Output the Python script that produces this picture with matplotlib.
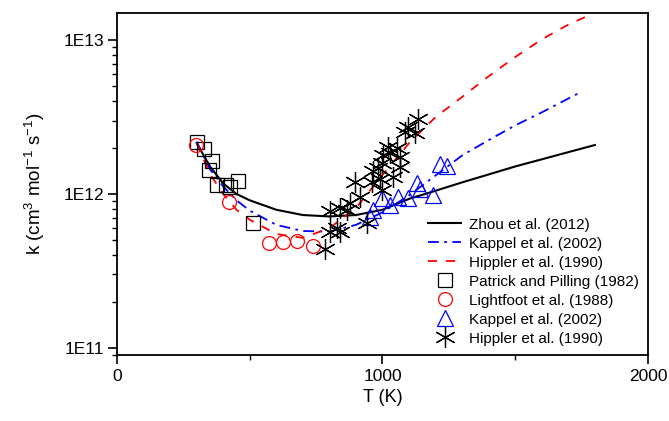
import matplotlib
matplotlib.use("Agg")
import matplotlib.pyplot as plt
from matplotlib.ticker import FixedLocator, LogLocator, FuncFormatter, NullFormatter
import numpy as np

plt.rcParams['font.family'] = ['Liberation Sans', 'DejaVu Sans']
plt.rcParams['mathtext.default'] = 'regular'
plt.rcParams['axes.unicode_minus'] = False

# ---- fitted curves ----
zhou_T = [300, 350, 400, 450, 500, 600, 700, 800, 900, 1000, 1100, 1200, 1300, 1400, 1500, 1600, 1700, 1800]
zhou_k = [2.14e12, 1.51e12, 1.17e12, 1.0e12, 9.1e11, 7.9e11, 7.3e11, 7.15e11, 7.3e11, 7.9e11,
          9.3e11, 1.05e12, 1.19e12, 1.34e12, 1.51e12, 1.68e12, 1.87e12, 2.08e12]

kappel_T = [300, 350, 400, 450, 500, 600, 700, 800, 900, 1000, 1100, 1200, 1300, 1400, 1500, 1600, 1700, 1750]
kappel_k = [2.19e12, 1.45e12, 1.12e12, 9.1e11, 7.8e11, 6.3e11, 5.75e11, 5.7e11, 6.3e11, 7.6e11,
            9.8e11, 1.32e12, 1.78e12, 2.24e12, 2.79e12, 3.39e12, 4.17e12, 4.62e12]

hippler_T = [300, 350, 400, 450, 500, 600, 700, 800, 900, 1000, 1100, 1200, 1300, 1400, 1500, 1600, 1700, 1763]
hippler_k = [2.14e12, 1.35e12, 1.0e12, 7.9e11, 6.8e11, 5.5e11, 5.19e11, 6.0e11, 8.1e11, 1.33e12,
             2.14e12, 3.16e12, 4.27e12, 5.82e12, 7.76e12, 1.01e13, 1.26e13, 1.41e13]

# ---- experimental data ----
patrick_T = [301, 328, 358, 347, 377, 411, 426, 456, 512]
patrick_k = [2.18e12, 1.96e12, 1.64e12, 1.43e12, 1.14e12, 1.14e12, 1.11e12, 1.21e12, 6.5e11]

lightfoot_T = [298, 422, 573, 625, 678, 738]
lightfoot_k = [2.08e12, 8.9e11, 4.8e11, 4.9e11, 4.95e11, 4.6e11]

kappel_dT = [1217, 1243, 1130, 1141, 1190, 1096, 1058, 1028, 998, 964, 953]
kappel_dk = [1.57e12, 1.52e12, 1.18e12, 1.08e12, 9.9e11, 9.4e11, 9.6e11, 8.5e11, 9.4e11, 7.9e11, 7.1e11]

hip_dT = [1135, 1097, 1122, 1085, 1022, 1053, 1003, 1028, 1066, 997, 984, 965, 1066, 1041, 991,
          896, 959, 915, 997, 878, 840, 802, 865, 940, 827, 802, 840, 783]
hip_dk = [3.09e12, 2.74e12, 2.48e12, 2.54e12, 2.03e12, 1.98e12, 1.79e12, 1.84e12, 1.75e12, 1.58e12,
          1.47e12, 1.40e12, 1.50e12, 1.29e12, 1.26e12, 1.20e12, 1.20e12, 9.6e11, 1.06e12, 8.7e11,
          8.1e11, 7.7e11, 7.9e11, 6.5e11, 6.0e11, 5.7e11, 5.7e11, 4.4e11]

fig = plt.figure(figsize=(6.69, 4.21), dpi=100)
ax = fig.add_axes([117/669, 1-355/421, (648-117)/669, (355-12.7)/421])

ax.plot(zhou_T, zhou_k, color='black', lw=1.5, ls='-', label='Zhou et al. (2012)')
ax.plot(kappel_T, kappel_k, color='blue', lw=1.3, ls=(0, (6, 3, 1.5, 3)), label='Kappel et al. (2002)')
ax.plot(hippler_T, hippler_k, color='red', lw=1.3, ls=(0, (5, 5)), label='Hippler et al. (1990)')

ax.plot(patrick_T, patrick_k, ls='none', marker='s', ms=9.5, mfc='none', mec='black', mew=0.9,
        label='Patrick and Pilling (1982)')
ax.plot(lightfoot_T, lightfoot_k, ls='none', marker='o', ms=10, mfc='none', mec='red', mew=0.9,
        label='Lightfoot et al. (1988)')
ax.plot(kappel_dT, kappel_dk, ls='none', marker='^', ms=11.5, mfc='none', mec='blue', mew=0.9,
        label='Kappel et al. (2002)')
ax.plot(hip_dT, hip_dk, ls='none', marker=(6, 2, 0), ms=15, mfc='none', mec='black', mew=0.9,
        label='Hippler et al. (1990)')

ax.set_yscale('log')
ax.set_xlim(0, 2000)
ax.set_ylim(9.0e10, 1.505e13)

ax.xaxis.set_major_locator(FixedLocator([0, 1000, 2000]))
ax.xaxis.set_minor_locator(FixedLocator([500, 1500]))
ax.yaxis.set_major_locator(FixedLocator([1e11, 1e12, 1e13]))
ax.yaxis.set_minor_locator(LogLocator(base=10, subs=np.arange(2, 10)))
ax.yaxis.set_major_formatter(FuncFormatter(lambda v, p: '1E%d' % int(round(np.log10(v)))))
ax.yaxis.set_minor_formatter(NullFormatter())

ax.tick_params(which='major', direction='out', length=6.5, width=1.2, labelsize=12.5, colors='black')
ax.tick_params(which='minor', direction='out', length=3.4, width=1.0)
ax.tick_params(axis='x', which='major', pad=3.5)
ax.tick_params(axis='y', which='major', pad=2.5)
for s in ax.spines.values():
    s.set_linewidth(1.3)

ax.set_xlabel('T (K)', fontsize=13, labelpad=4)
ax.set_ylabel('k (cm$^{3}$ mol$^{-1}$ s$^{-1}$)', fontsize=13.5, labelpad=12)

leg = ax.legend(loc='lower right', bbox_to_anchor=(1.0, 0.0), frameon=False, fontsize=11,
                handlelength=2.2, handletextpad=0.5, labelspacing=0.33, borderaxespad=0.2)

fig.savefig('out.png', dpi=100)
